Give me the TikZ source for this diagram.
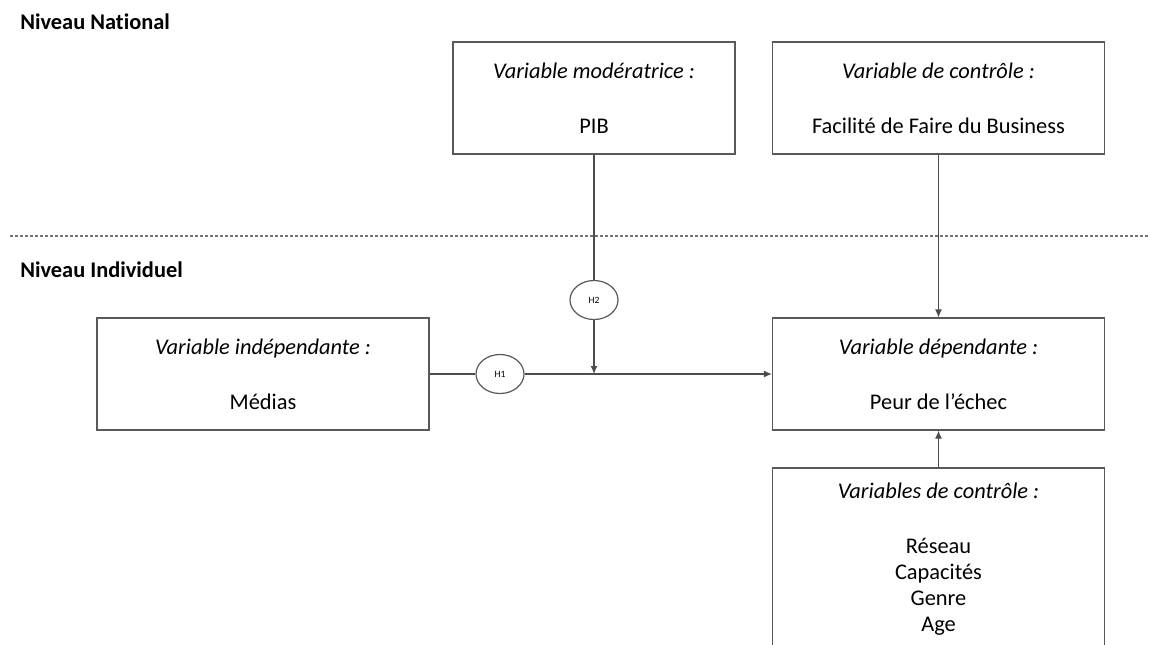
\documentclass[tikz,border=0pt]{standalone}
\usepackage{fontspec}
\setmainfont{Carlito}[Ligatures=NoCommon]
\usetikzlibrary{arrows.meta,shapes.geometric}

\begin{document}
\begin{tikzpicture}[x=0.5pt,y=-0.5pt,>={Latex[length=4pt,width=3.5pt]},
  line width=0.6pt,
  font=\fontsize{11.2}{13}\selectfont,
  varbox/.style={draw=black!65,rectangle,align=center,minimum width=166pt,minimum height=56pt,inner sep=0pt},
  hypo/.style={draw=black!65,ellipse,minimum width=24pt,minimum height=19.5pt,inner sep=0pt,font=\fontsize{4.8}{5}\selectfont},
  niveau/.style={anchor=west,font=\fontsize{11.2}{12}\selectfont\bfseries},
  link/.style={draw=black!70}]
  \useasboundingbox (0,0) rectangle (1150,644);
  \clip (0,0) rectangle (1150,644);
  % national level
  \node[niveau] (natl) at (13,22) {Niveau National};
  \node[varbox,minimum width=141pt] (pib) at (594,98)
    {\textit{Variable modératrice :}\\[14.5pt]PIB};
  \node[varbox] (fac) at (938.5,98)
    {\textit{Variable de contrôle :}\\[14.5pt]Facilité de Faire du Business};
  \draw[black!55,dash pattern=on 1.5pt off 1pt] (10,236) -- (1150,236);
  % individual level
  \node[niveau] (indiv) at (13,270) {Niveau Individuel};
  \node[varbox] (medias) at (263,374)
    {\textit{Variable indépendante :}\\[14.5pt]Médias};
  \node[varbox] (dep) at (938.5,374)
    {\textit{Variable dépendante :}\\[14.5pt]Peur de l’échec};
  \node[varbox,minimum height=91pt] (ctrl) at (938.5,559)
    {\textit{Variables de contrôle :}\\[14.5pt]Réseau\\Capacités\\Genre\\Age};
  \node[hypo] (h2) at (594,300) {H2};
  \node[hypo] (h1) at (500,374) {H1};
  \coordinate (join) at (594,374);
  % connectors
  \draw[link] (medias) -- (h1);
  \draw[link,->] (h1) -- (dep);
  \draw[link] (pib) -- (h2);
  \draw[link,->] (h2) -- (join);
  \draw[link,->] (fac) -- (dep);
  \draw[link,->] (ctrl) -- (dep);
\end{tikzpicture}
\end{document}
